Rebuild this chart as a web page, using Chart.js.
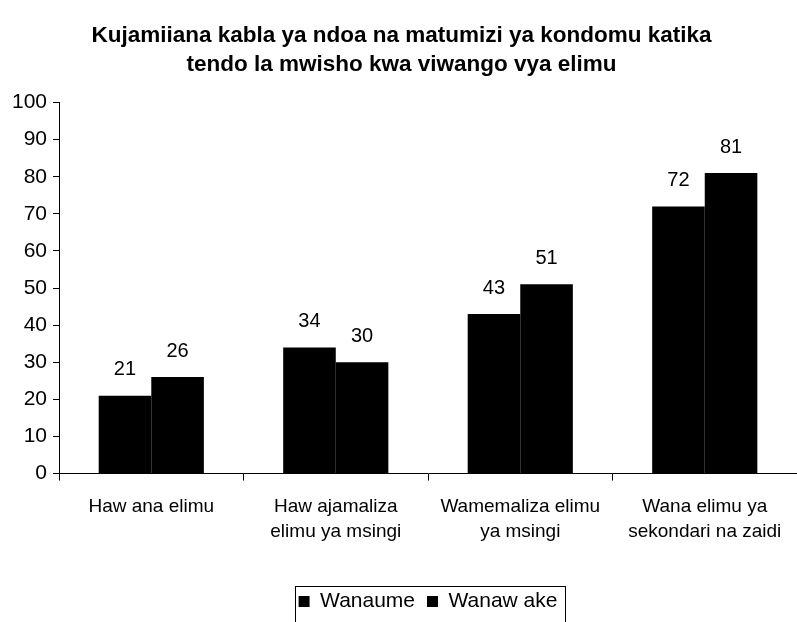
<!DOCTYPE html>
<html>
<head>
<meta charset="utf-8">
<script src="https://cdn.jsdelivr.net/npm/chart.js@4.4.1/dist/chart.umd.min.js"></script>
<style>
  html, body { margin: 0; padding: 0; background: #fff; }
  #wrap { width: 797px; height: 622px; position: relative; }
</style>
</head>
<body>
<div id="wrap"><canvas id="chart"></canvas></div>
<script>
// Data
const categories = [
    ['Haw ana elimu'],
    ['Haw ajamaliza', 'elimu ya msingi'],
    ['Wamemaliza elimu', 'ya msingi'],
    ['Wana elimu ya', 'sekondari na zaidi']
];
const wanaume = [21, 34, 43, 72];
const wanawake = [26, 30, 51, 81];
const seriesNames = ['Wanaume', 'Wanaw ake'];
const yTicks = [0, 10, 20, 30, 40, 50, 60, 70, 80, 90, 100];

const FONT = "'Liberation Sans', Arial, sans-serif";

// value labels above each bar
const valueLabels = {
    id: 'valueLabels',
    afterDatasetsDraw(chart) {
        const ctx = chart.ctx;
        ctx.save();
        ctx.fillStyle = '#000';
        ctx.font = '20px ' + FONT;
        ctx.textAlign = 'center';
        ctx.textBaseline = 'bottom';
        chart.data.datasets.forEach((ds, i) => {
            chart.getDatasetMeta(i).data.forEach((bar, j) => {
                ctx.fillText(ds.data[j], bar.x, bar.y - 16);
            });
        });
        ctx.restore();
    }
};

// border round the legend
const legendBox = {
    id: 'legendBox',
    afterDraw(chart) {
        const boxes = chart.legend.legendHitBoxes;
        if (!boxes || !boxes.length) return;
        const first = boxes[0], last = boxes[boxes.length - 1];
        const ctx = chart.ctx;
        ctx.save();
        ctx.strokeStyle = '#000';
        ctx.lineWidth = 1;
        const x1 = Math.round(first.left - 4) + 0.5;
        const x2 = Math.round(last.left + last.width + 8) + 0.5;
        const y1 = Math.round(first.top - 5) + 0.5;
        const y2 = Math.round(first.top + first.height + 14) + 0.5;
        ctx.strokeRect(x1, y1, x2 - x1, y2 - y1);
        ctx.restore();
    }
};

new Chart(document.getElementById('chart'), {
    type: 'bar',
    data: {
        labels: categories,
        datasets: [{
            label: seriesNames[0],
            data: wanaume,
            backgroundColor: '#000'
        }, {
            label: seriesNames[1],
            data: wanawake,
            backgroundColor: '#000'
        }]
    },
    options: {
        responsive: true,
        maintainAspectRatio: false,
        animation: false,
        layout: { padding: { left: 6, right: 0, top: 8, bottom: 0 } },
        datasets: {
            bar: { categoryPercentage: 0.57, barPercentage: 1.0 }
        },
        plugins: {
            title: {
                display: true,
                text: ['Kujamiiana kabla ya ndoa na matumizi ya kondomu katika',
                       'tendo la mwisho kwa viwango vya elimu'],
                color: '#000',
                font: { family: FONT, size: 22.5, weight: 'bold', lineHeight: 1.3 },
                padding: { top: 13, bottom: 23 }
            },
            legend: {
                position: 'bottom',
                fullSize: false,
                labels: {
                    color: '#000',
                    font: { family: FONT, size: 21 },
                    boxWidth: 11,
                    boxHeight: 11,
                    padding: 12
                }
            },
            tooltip: { enabled: false }
        },
        scales: {
            x: {
                afterFit(axis) {
                    axis.height += 21;
                },
                grid: {
                    offset: true,
                    drawOnChartArea: false,
                    tickLength: 7,
                    color: '#000'
                },
                border: { color: '#000', width: 1 },
                ticks: {
                    color: '#000',
                    font: { family: FONT, size: 19, lineHeight: 1.3 },
                    padding: 14,
                    maxRotation: 0
                }
            },
            y: {
                min: 0,
                max: 100,
                afterBuildTicks(axis) {
                    axis.ticks = yTicks.map(v => ({ value: v }));
                },
                grid: {
                    drawOnChartArea: false,
                    tickLength: 6,
                    color: '#000'
                },
                border: { color: '#000', width: 1 },
                ticks: {
                    color: '#000',
                    font: { family: FONT, size: 21 },
                    padding: 6
                }
            }
        }
    },
    plugins: [valueLabels, legendBox]
});
</script>
</body>
</html>
